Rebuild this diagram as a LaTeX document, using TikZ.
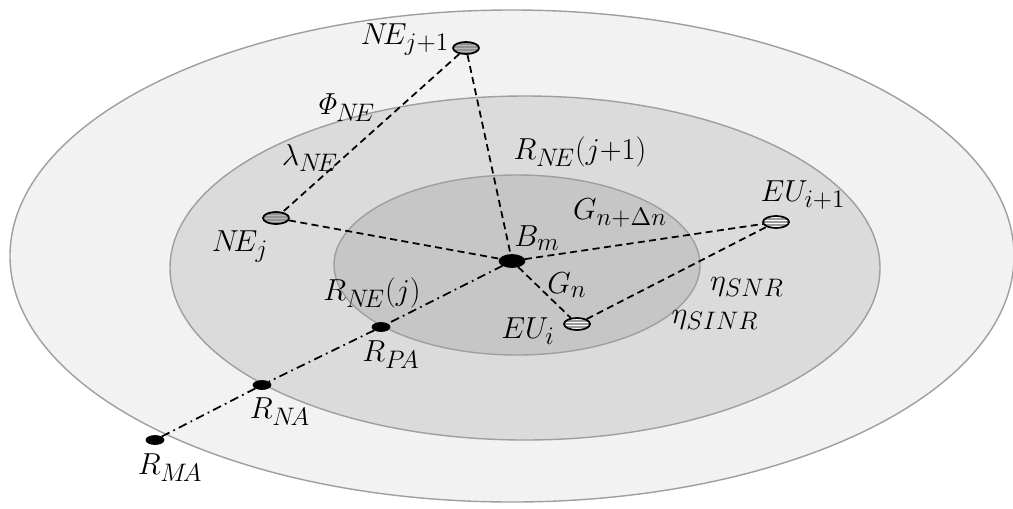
\documentclass[tikz,border=0pt]{standalone}
\usetikzlibrary{shapes.geometric}
\DeclareMathSizes{16}{16}{13.5}{10}
\begin{document}
\begin{tikzpicture}[x=0.02cm,y=-0.02cm,
  zone/.style={draw=gray!75,line width=0.8pt},
  link/.style={dashed,line width=1pt,dash pattern=on 4pt off 2.5pt},
  axis/.style={line width=1pt,dash pattern=on 5pt off 2.5pt on 1pt off 2.5pt},
  nenode/.style={ellipse,draw=black,line width=1pt,fill=gray!85,minimum width=0.52cm,minimum height=0.24cm,inner sep=0pt,
    path picture={\foreach \f in {-0.3,0,0.3}{\draw[gray!55,line width=0.5pt] ([yshift=\f*0.2cm]path picture bounding box.west) -- ([yshift=\f*0.2cm]path picture bounding box.east);}}},
  eunode/.style={ellipse,draw=black,line width=1pt,fill=white,minimum width=0.52cm,minimum height=0.24cm,inner sep=0pt,
    path picture={\foreach \f in {-0.3,0,0.3}{\draw[gray!80,line width=0.7pt] ([yshift=\f*0.2cm]path picture bounding box.west) -- ([yshift=\f*0.2cm]path picture bounding box.east);}}},
  bsnode/.style={ellipse,draw=black,fill=black,minimum width=0.52cm,minimum height=0.26cm,inner sep=0pt},
  ring/.style={ellipse,draw=black,fill=black,minimum width=0.36cm,minimum height=0.18cm,inner sep=0pt},
  lbl/.style={font=\fontsize{16}{18}\selectfont,inner sep=0pt}]
\useasboundingbox (0,0) rectangle (1013,508);
% zones
\draw[zone,fill=gray!10] (512,256) ellipse [x radius=502,y radius=246];
\draw[zone,fill=gray!28] (525,268) ellipse [x radius=355,y radius=172];
\draw[zone,fill=gray!45] (517,265) ellipse [x radius=183,y radius=90];
% nodes
\node[bsnode] (bm) at (512,261) {};
\node[nenode] (nej1) at (466,48) {};
\node[nenode] (nej) at (276,218) {};
\node[eunode] (eui1) at (776,222) {};
\node[eunode] (eui) at (577,324) {};
\node[ring] (rpa) at (381,327) {};
\node[ring] (rna) at (262,385) {};
\node[ring] (rma) at (155,440) {};
% connectors
\draw[axis] (bm) -- (rpa) -- (rna) -- (rma);
\draw[link] (nej1) -- (bm);
\draw[link] (nej1) -- (nej);
\draw[link] (nej) -- (bm);
\draw[link] (bm) -- (eui1);
\draw[link] (bm) -- (eui);
\draw[link] (eui) -- (eui1);
% labels
\node[lbl] (l1) at (405,40) {$N\!E_{j+1}$};
\node[lbl] (l2) at (345,108) {$\mathit{\Phi}_{N\!E}$};
\node[lbl] (l3) at (310,158) {$\lambda_{N\!E}$};
\node[lbl] (l4) at (240,247) {$N\!E_{j}$};
\node[lbl] (l5) at (372,293) {$R_{N\!E}(j)$};
\node[lbl] (l6) at (580,152) {$R_{N\!E}(j{+}1)$};
\node[lbl] (l7) at (537,238) {$B_{m}$};
\node[lbl] (l8) at (620,213) {$G_{n+\Delta n}$};
\node[lbl] (l9) at (803,195) {$EU_{i+1}$};
\node[lbl] (l10) at (567,285) {$G_{n}$};
\node[lbl] (l11) at (747,287) {$\eta_{SNR}$};
\node[lbl] (l12) at (528,331) {$EU_{i}$};
\node[lbl] (l13) at (715,320) {$\eta_{SINR}$};
\node[lbl] (l14) at (391,355) {$R_{P\!A}$};
\node[lbl] (l15) at (280,412) {$R_{N\!A}$};
\node[lbl] (l16) at (170,468) {$R_{M\!A}$};
\end{tikzpicture}
\end{document}
